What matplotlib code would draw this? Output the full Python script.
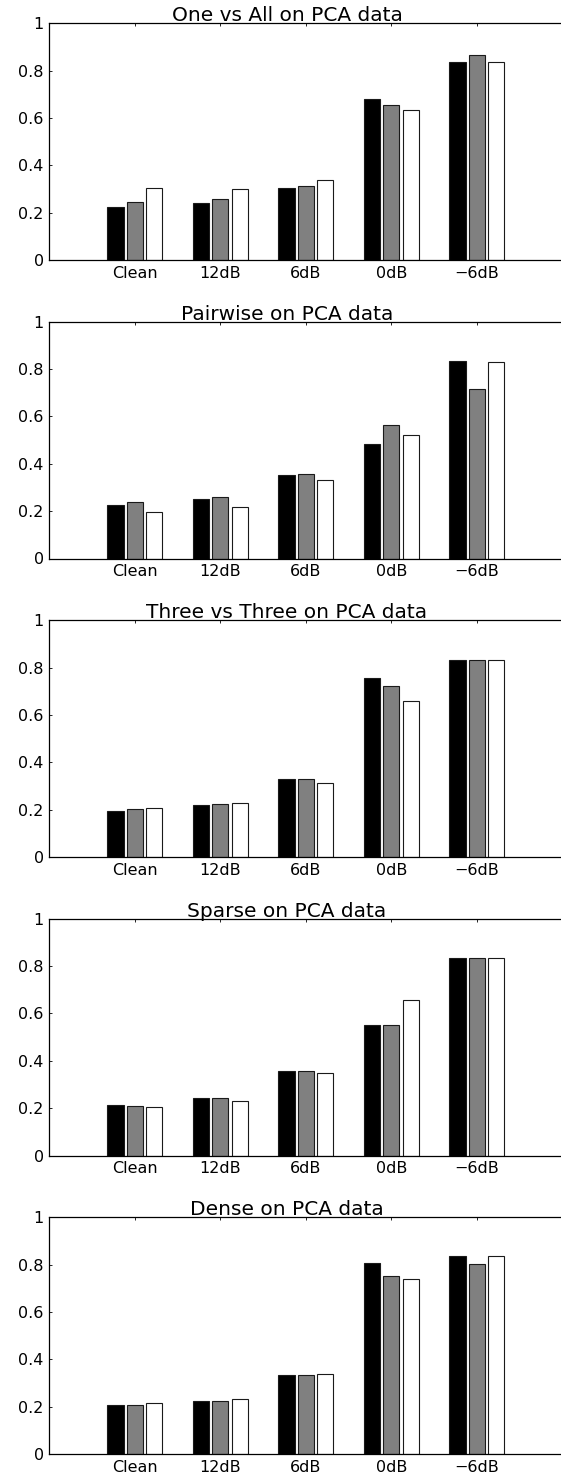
import matplotlib
matplotlib.use("Agg")
import matplotlib.pyplot as plt
import numpy as np

categories = ["Clean", "12dB", "6dB", "0dB", "\u22126dB"]
titles = ["One vs All on PCA data", "Pairwise on PCA data",
          "Three vs Three on PCA data", "Sparse on PCA data",
          "Dense on PCA data"]

one_vs_all_black = [0.222, 0.239, 0.304, 0.680, 0.835]
one_vs_all_gray = [0.246, 0.258, 0.313, 0.655, 0.868]
one_vs_all_white = [0.306, 0.301, 0.337, 0.632, 0.835]

pairwise_black = [0.225, 0.253, 0.352, 0.485, 0.835]
pairwise_gray = [0.240, 0.261, 0.358, 0.566, 0.717]
pairwise_white = [0.198, 0.219, 0.330, 0.520, 0.832]

three_black = [0.196, 0.221, 0.331, 0.755, 0.834]
three_gray = [0.204, 0.223, 0.331, 0.721, 0.834]
three_white = [0.205, 0.229, 0.313, 0.658, 0.834]

sparse_black = [0.215, 0.243, 0.356, 0.551, 0.834]
sparse_gray = [0.211, 0.243, 0.356, 0.551, 0.834]
sparse_white = [0.205, 0.232, 0.348, 0.656, 0.834]

dense_black = [0.209, 0.226, 0.333, 0.809, 0.835]
dense_gray = [0.206, 0.226, 0.332, 0.751, 0.801]
dense_white = [0.2175, 0.232, 0.336, 0.740, 0.835]

panels = [
    (one_vs_all_black, one_vs_all_gray, one_vs_all_white),
    (pairwise_black, pairwise_gray, pairwise_white),
    (three_black, three_gray, three_white),
    (sparse_black, sparse_gray, sparse_white),
    (dense_black, dense_gray, dense_white),
]

yticks = [0, 0.2, 0.4, 0.6, 0.8, 1.0]
ytick_labels = ["0", "0.2", "0.4", "0.6", "0.8", "1"]

plt.rcParams["font.family"] = ["DejaVu Sans"]

W, H = 561, 1476
fig = plt.figure(figsize=(W / 100, H / 100), dpi=100)

left_px = 49.3
unit_px = 85.5
xmax = 6.04
width_px = unit_px * xmax
height_px = 236.7
top0_px = 23.3
step_px = 298.5

fills = ["#000000", "#808080", "#ffffff"]
offsets = [-0.226, 0.0, 0.226]
bw = 0.19

for i, (vals, title) in enumerate(zip(panels, titles)):
    top_px = top0_px + i * step_px
    bottom_frac = (H - (top_px + height_px)) / H
    ax = fig.add_axes([left_px / W, bottom_frac, width_px / W, height_px / H])
    x = np.arange(1, len(categories) + 1)
    for series, col, off in zip(vals, fills, offsets):
        ax.bar(x + off, series, width=bw, color=col, edgecolor="#1a1a1a",
               linewidth=0.8, zorder=2)
    ax.set_xlim(0, xmax)
    ax.set_ylim(0, 1)
    ax.set_xticks(x)
    ax.set_xticklabels(categories)
    ax.set_yticks(yticks)
    ax.set_yticklabels(ytick_labels)
    ax.tick_params(direction="in", length=2.5, width=0.6, labelsize=11.5,
                   top=True, right=True, pad=4, color="black")
    for sp in ax.spines.values():
        sp.set_linewidth(0.9)
    ax.set_title(title, fontsize=14.5, pad=1.5, x=(287 - left_px) / width_px)

fig.savefig("out.png", dpi=100)
